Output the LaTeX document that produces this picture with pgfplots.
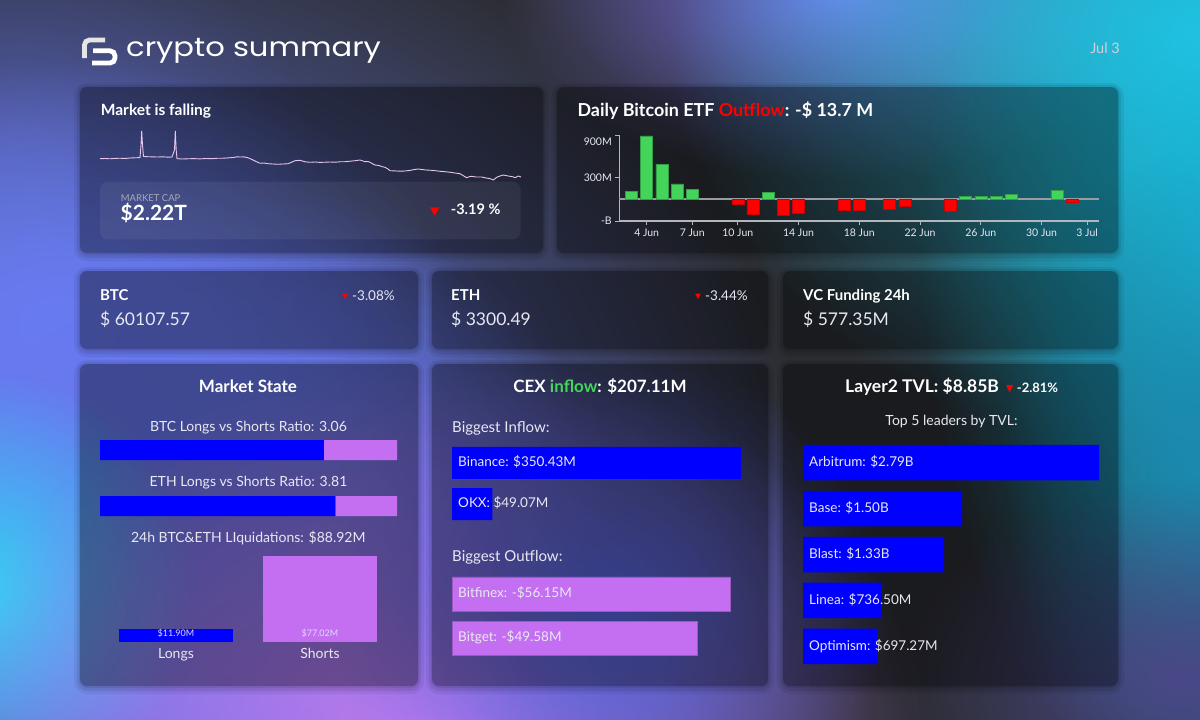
\documentclass[border=0pt]{standalone}
\usepackage{pgfplots}
\pgfplotsset{compat=1.18}
\usepackage{fontspec}
\setmainfont{Lato}
\newfontfamily\logofont{Poppins}
\usetikzlibrary{fadings}
\tikzfading[name=glow, inner color=transparent!0, outer color=transparent!100]

\definecolor{bg}{HTML}{2C2D32}
\definecolor{barblue}{HTML}{0000FF}
\definecolor{barpurple}{HTML}{C46FF2}
\definecolor{upgreen}{HTML}{44D35B}
\definecolor{downred}{HTML}{FF0000}
\definecolor{txt}{HTML}{E8E8F2}
\definecolor{sub}{HTML}{A6A8BA}
\definecolor{axisgray}{HTML}{B4B6BE}
\definecolor{zerogray}{HTML}{9A9CA4}
\definecolor{linepink}{HTML}{E6C6EE}
\definecolor{datecol}{HTML}{CFD0DA}
\definecolor{barlab}{HTML}{E0DCF5}
\definecolor{gA}{HTML}{3E4270}
\definecolor{gB}{HTML}{6B7FF5}
\definecolor{gB2}{HTML}{6878F0}
\definecolor{gC}{HTML}{35D2F5}
\definecolor{gD}{HTML}{C47CF2}
\definecolor{gE}{HTML}{5566E0}
\definecolor{gF}{HTML}{7A70E4}
\definecolor{gG}{HTML}{2AD6F6}
\definecolor{gH}{HTML}{18B8D8}
\definecolor{gH2}{HTML}{1A8AB0}
\definecolor{gI}{HTML}{4A4888}

\newcommand\fs[1]{\fontsize{#1}{#1}\selectfont}
\newcommand\glow[5]{\fill[#1, path fading=glow] (#2,#3) ellipse ({2*(#4)} and {2*(#5)});}
\newcommand\panel[4]{%
  \fill[black, opacity=0.06, rounded corners=13pt] (#1-6,#2-4) rectangle (#3+6,#4+8);
  \fill[black, opacity=0.08, rounded corners=10pt] (#1-3,#2-2) rectangle (#3+3,#4+5);
  \fill[black, opacity=0.08, rounded corners=8pt] (#1-1,#2) rectangle (#3+1,#4+2);
  \fill[black, opacity=0.22, rounded corners=7pt] (#1,#2) rectangle (#3,#4);}

\begin{document}
\begin{tikzpicture}[x=1pt,y=-1pt,
  t/.style={inner sep=0pt, text height=0.72em, text depth=0pt, anchor=west, text=txt}]
\useasboundingbox (0,0) rectangle (1200,720);
\begin{scope}
\clip (0,0) rectangle (1200,720);
\fill[bg] (0,0) rectangle (1200,720);
% background glows
\glow{gA}{0}{160}{160}{120}
\glow{gB}{40}{470}{380}{300}
\glow{gB}{60}{320}{200}{130}
\glow{gB2}{170}{560}{230}{200}
\glow{gB2}{200}{520}{200}{170}
\glow{gC}{-20}{590}{110}{110}
\glow{gD}{430}{740}{250}{190}
\glow{gE}{610}{610}{140}{130}
\glow{gF}{840}{-10}{170}{95}
\glow{gG}{1210}{40}{270}{210}
\glow{gH}{1220}{250}{150}{280}
\glow{gH2}{1200}{450}{100}{150}
\glow{gI}{1180}{680}{140}{100}
% panels
\panel{80}{87}{543}{253}
\panel{557}{87}{1118}{253}
\panel{80}{271}{418}{349}
\panel{432}{271}{768}{349}
\panel{783}{271}{1118}{349}
\panel{80}{364}{418}{686}
\panel{432}{364}{768}{686}
\panel{783}{364}{1118}{686}
\end{scope}

% header
\draw[line width=4.8pt, white!80!gray, rounded corners=5pt] (105,40) -- (84.5,40) -- (84.5,58);
\draw[line width=4.8pt, white, rounded corners=5pt] (93,50.8) -- (115,50.8) -- (115,63) -- (92,63);
\node[inner sep=0pt, anchor=base west, text=white] at (126,56) {\scalebox{1.155}[1]{\logofont\fs{26.5}crypto summary}};
\node[t, anchor=east, text=datecol, font=\fs{14.5}] at (1120,50) {Jul 3};

% market cap panel
\node[t, text=white, font=\bfseries\fs{15.5}] at (100.7,111.5) {Market is falling};
\begin{axis}[at={(100pt,-181pt)}, anchor=south west, width=421pt, height=51pt,
  scale only axis, hide axis, clip=false,
  xmin=0, xmax=421, ymin=2.2048, ymax=2.3986]
\addplot[linepink, line width=0.9pt] table {
0 2.2895
5 2.2903
10 2.2892
15 2.2907
20 2.2914
25 2.2903
30 2.2922
35 2.2930
40 2.2937
41 2.3416
41.7 2.3948
42.5 2.3416
43.5 2.2979
48 2.2971
53 2.2964
58 2.2960
63 2.2968
68 2.2952
72 2.2960
74.5 2.3226
75.3 2.3948
76.2 2.3226
77 2.2899
82 2.2884
88 2.2892
94 2.2899
100 2.2888
106 2.2903
112 2.2895
118 2.2914
122 2.2911
128 2.2926
134 2.2945
137 2.2968
140 2.2960
144 2.2964
148 2.2933
152 2.2865
156 2.2789
160 2.2721
164 2.2732
168 2.2705
173 2.2694
178 2.2683
183 2.2694
188 2.2705
191 2.2751
195 2.2819
200 2.2835
205 2.2778
210 2.2759
215 2.2770
220 2.2755
225 2.2762
230 2.2770
235 2.2762
240 2.2778
245 2.2781
250 2.2800
255 2.2819
260 2.2846
263 2.2808
265 2.2781
268 2.2789
270 2.2759
273 2.2694
275 2.2656
279 2.2637
282 2.2595
285 2.2569
288 2.2504
290 2.2439
295 2.2432
300 2.2420
305 2.2428
310 2.2451
314 2.2481
318 2.2504
322 2.2485
326 2.2466
331 2.2455
336 2.2436
340 2.2417
345 2.2401
350 2.2382
355 2.2352
360 2.2325
363 2.2257
366.7 2.2173
369 2.2208
371.7 2.2227
376 2.2200
381.7 2.2200
386 2.2162
390 2.2139
393.3 2.2086
396.7 2.2189
400 2.2238
403.3 2.2276
407 2.2246
410 2.2227
413 2.2208
415 2.2173
418.3 2.2238
421 2.2200
};
\end{axis}
\fill[white, opacity=0.06, rounded corners=8pt] (100,181.7) rectangle (520.7,239.3);
\node[t, text=sub, font=\fs{9.5}] at (120.7,197.7) {MARKET CAP};
\node[t, text=white, font=\bfseries\fs{21}] at (120.5,216.5) {\$2.22T};
\fill[downred] (430,207.3) -- (439.3,207.3) -- (434.65,215.7) -- cycle;
\node[t, text=white, font=\bfseries\fs{14.5}] at (450.7,210.7) {-3.19 \%};

% ETF panel
\node[t, text=white, font=\bfseries\fs{17.9}] at (577.3,113) {Daily Bitcoin ETF {\color{downred}Outflow}: -\$ 13.7 M};
\begin{axis}[at={(619.3pt,-221pt)}, anchor=south west, width=479.7pt, height=86pt,
  scale only axis, clip=false,
  xmin=2.2, xmax=33.78, ymin=-308, ymax=900,
  axis lines*=left, axis line style={axisgray, line width=1.1pt},
  xtick={4,7,10,14,18,22,26,30,33},
  xticklabels={4 Jun,7 Jun,10 Jun,14 Jun,18 Jun,22 Jun,26 Jun,30 Jun,3 Jul},
  ytick={-308,300}, yticklabels={-B,300M},
  extra y ticks={900}, extra y tick labels={900M},
  extra y tick style={yticklabel style={yshift=-7pt}},
  tick align=outside, major tick length=4pt, tick style={axisgray, line width=1pt},
  tick label style={font=\fs{10.5}, text=txt},
  /pgf/number format/assume math mode=true]
\addplot[zerogray, line width=1.2pt] coordinates {(2.2,0) (33.78,0)};
\addplot[ybar, bar width=12pt, fill=upgreen, draw=upgreen!75!black, line width=0.5pt] coordinates {
(3,103) (4,887) (5,490) (6,215) (7,131) (12,98) (25,37) (26,37) (27,36) (28,70) (31,126)};
\addplot[ybar, bar width=12pt, fill=downred, draw=downred!80!black, line width=0.5pt] coordinates {
(10,-70) (11,-211) (13,-234) (14,-197) (17,-150) (18,-155) (20,-140) (21,-103) (24,-178) (32,-40)};
\end{axis}

% row 2
\node[t, text=white, font=\bfseries\fs{15}] at (100,296.5) {BTC};
\node[t, font=\fs{17.5}] at (100,321.7) {\$ 60107.57};
\fill[downred] (342,293.5) -- (348,293.5) -- (345,299) -- cycle;
\node[t, font=\fs{13.5}] at (352,296.5) {-3.08\%};
\node[t, text=white, font=\bfseries\fs{15}] at (451,296.5) {ETH};
\node[t, font=\fs{17.5}] at (451,321.7) {\$ 3300.49};
\fill[downred] (695,293.5) -- (701,293.5) -- (698,299) -- cycle;
\node[t, font=\fs{13.5}] at (705,296.5) {-3.44\%};
\node[t, text=white, font=\bfseries\fs{15}] at (803,296.5) {VC Funding 24h};
\node[t, font=\fs{17.5}] at (803,321.7) {\$ 577.35M};

% market state
\node[t, anchor=center, text=white, font=\bfseries\fs{17}] at (248,389) {Market State};
\node[t, anchor=center, font=\fs{14}] at (248.5,428) {BTC Longs vs Shorts Ratio: 3.06};
\node[t, anchor=center, font=\fs{14}] at (248.5,483.3) {ETH Longs vs Shorts Ratio: 3.81};
\node[t, anchor=center, font=\fs{14}] at (248.3,539.3) {24h BTC\&ETH LIquidations: \$88.92M};
\begin{axis}[at={(100pt,-516pt)}, anchor=south west, width=297pt, height=76pt,
  scale only axis, hide axis, xbar stacked, bar width=20pt,
  xmin=0, xmax=1, ymin=-0.1786, ymax=1.1786]
\addplot[fill=barblue, draw=none] coordinates {(0.7537,1) (0.7921,0)};
\addplot[fill=barpurple, draw=none] coordinates {(0.2463,1) (0.2079,0)};
\end{axis}
\begin{axis}[at={(104pt,-642pt)}, anchor=south west, width=288pt, height=86.4pt,
  scale only axis, clip=false,
  xmin=-0.5, xmax=1.5, ymin=0, ymax=77.02,
  axis line style={draw=none}, major tick length=0pt, ytick=\empty,
  xtick={0,1}, xticklabels={Longs,Shorts},
  xticklabel style={font=\fs{14}, text=txt, yshift=-3pt}]
\addplot[ybar, bar width=114pt, fill=barblue, draw=none] coordinates {(0,11.90)};
\addplot[ybar, bar width=114pt, fill=barpurple, draw=none] coordinates {(1,77.02)};
\node[t, anchor=center, font=\fs{9}, text=barlab, yshift=9pt] at (axis cs:0,0) {\$11.90M};
\node[t, anchor=center, font=\fs{9}, text=barlab, yshift=9pt] at (axis cs:1,0) {\$77.02M};
\end{axis}

% CEX
\node[t, anchor=center, text=white, font=\bfseries\fs{17}] at (600,389) {CEX {\color{upgreen}inflow}: \$207.11M};
\node[t, font=\fs{15}] at (452,429.3) {Biggest Inflow:};
\node[t, font=\fs{15}] at (452,558) {Biggest Outflow:};
\begin{axis}[at={(452pt,-520pt)}, anchor=south west, width=289pt, height=73pt,
  scale only axis, hide axis, clip=false,
  xmin=0, xmax=350.43, ymin=-0.390, ymax=1.390]
\addplot[xbar, bar width=32pt, fill=barblue, draw=none] coordinates {(350.43,1) (49.07,0)};
\node[t, font=\fs{13.5}, xshift=6pt] at (axis cs:0,1) {Binance: \$350.43M};
\node[t, font=\fs{13.5}, xshift=6pt] at (axis cs:0,0) {OKX: \$49.07M};
\end{axis}
\begin{axis}[at={(452pt,-655pt)}, anchor=south west, width=278pt, height=78pt,
  scale only axis, hide axis, clip=false,
  xmin=0, xmax=56.15, ymin=-0.386, ymax=1.386]
\addplot[xbar, bar width=34pt, fill=barpurple, draw=barpurple!80!black, line width=0.6pt] coordinates {(56.15,1) (49.58,0)};
\node[t, font=\fs{13.5}, xshift=6pt] at (axis cs:0,1) {Bitfinex: -\$56.15M};
\node[t, font=\fs{13.5}, xshift=6pt] at (axis cs:0,0) {Bitget: -\$49.58M};
\end{axis}

% Layer2
\node[t, text=white, font=\bfseries\fs{17.5}] at (845,388.7) {Layer2 TVL: \$8.85B};
\fill[downred] (1006,385) -- (1013.3,385) -- (1009.65,392.3) -- cycle;
\node[t, text=white, font=\bfseries\fs{13}] at (1016.7,388.7) {-2.81\%};
\node[t, anchor=center, font=\fs{14}] at (951.5,422.3) {Top 5 leaders by TVL:};
\begin{axis}[at={(803pt,-664pt)}, anchor=south west, width=296pt, height=219pt,
  scale only axis, hide axis, clip=false,
  xmin=0, xmax=2.79, ymin=-0.381, ymax=4.381]
\addplot[xbar, bar width=35.5pt, fill=barblue, draw=none] coordinates {
(2.79,4) (1.50,3) (1.33,2) (0.7365,1) (0.69727,0)};
\node[t, font=\fs{13.5}, xshift=6pt] at (axis cs:0,4) {Arbitrum: \$2.79B};
\node[t, font=\fs{13.5}, xshift=6pt] at (axis cs:0,3) {Base: \$1.50B};
\node[t, font=\fs{13.5}, xshift=6pt] at (axis cs:0,2) {Blast: \$1.33B};
\node[t, font=\fs{13.5}, xshift=6pt] at (axis cs:0,1) {Linea: \$736.50M};
\node[t, font=\fs{13.5}, xshift=6pt] at (axis cs:0,0) {Optimism: \$697.27M};
\end{axis}
\end{tikzpicture}
\end{document}
